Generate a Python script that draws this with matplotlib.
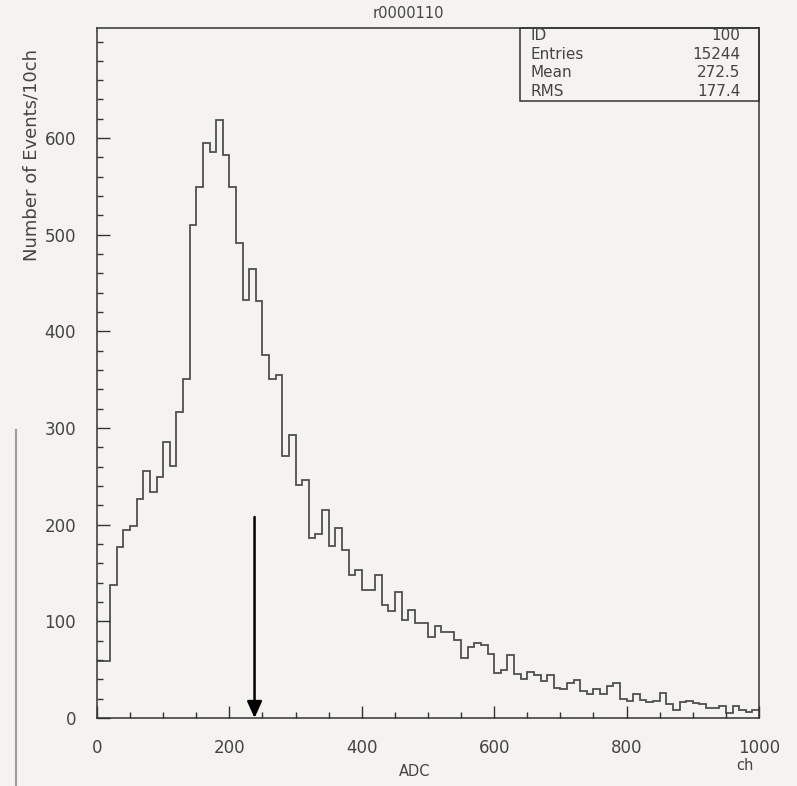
import numpy as np
import matplotlib
matplotlib.use("Agg")
import matplotlib.pyplot as plt
from matplotlib.patches import Rectangle
from matplotlib.lines import Line2D

# ADC spectrum, number of events per 10 channels (bins 0-10, 10-20, ... 990-1000)
counts = [59, 59, 138, 177, 195, 199, 227, 256, 234, 249,
          286, 261, 317, 351, 510, 549, 595, 586, 619, 583,
          549, 491, 433, 465, 431, 376, 351, 355, 271, 293,
          241, 246, 186, 190, 215, 178, 197, 174, 148, 153,
          132, 132, 148, 117, 111, 130, 101, 112, 98, 98,
          84, 95, 89, 89, 81, 62, 73, 78, 76, 66,
          47, 50, 65, 46, 40, 48, 44, 38, 45, 31,
          30, 36, 39, 28, 25, 30, 25, 33, 36, 20,
          18, 25, 19, 17, 18, 26, 15, 8, 17, 18,
          16, 15, 10, 10, 12, 5, 12, 8, 6, 8]
bin_width = 10

stat_names = ["ID", "Entries", "Mean", "RMS"]
stat_values = ["100", "15244", "272.5", "177.4"]

# threshold marker
arrow_x = 238
arrow_top = 208

paper = "#f5f3f0"
ink = "#444444"

fig = plt.figure(figsize=(7.97, 7.86), dpi=100, facecolor=paper)
ax = fig.add_axes([0.1217, 0.0865, 0.8306, 0.8779], facecolor=paper)

edges = np.arange(len(counts) + 1) * bin_width
ax.stairs(counts, edges, color="#505050", linewidth=1.3, baseline=None)

ax.set_xlim(0, 1000)
ax.set_ylim(0, 714)

for s in ax.spines.values():
    s.set_color("#333333")
    s.set_linewidth(1.1)

ax.set_xticks(np.arange(0, 1001, 200))
ax.set_xticks(np.arange(0, 1001, 50), minor=True)
ax.set_yticks(np.arange(0, 601, 100))
ax.set_yticks(np.arange(0, 714, 20), minor=True)
ax.tick_params(which="both", direction="in", color="#333333", width=1.0,
               labelcolor=ink, labelsize=12)
ax.tick_params(axis="y", which="major", length=9, pad=15)
ax.tick_params(axis="y", which="minor", length=4.5)
ax.tick_params(axis="x", which="major", length=9, pad=15)
ax.tick_params(axis="x", which="minor", length=4)

# stats box
ax.add_patch(Rectangle((0.639, 0.894), 0.361, 0.106, transform=ax.transAxes,
                       fill=False, edgecolor="#333333", linewidth=1.1, clip_on=False))
for i, (n, v) in enumerate(zip(stat_names, stat_values)):
    y = 0.9885 - i * 0.0268
    ax.text(0.655, y, n, transform=ax.transAxes, ha="left", va="center",
            fontsize=11, color=ink)
    ax.text(0.972, y, v, transform=ax.transAxes, ha="right", va="center",
            fontsize=11, color=ink)

# arrow
ax.annotate("", xy=(arrow_x, 0), xytext=(arrow_x, arrow_top),
            arrowprops=dict(arrowstyle="-|>,head_length=1.0,head_width=0.45",
                            color="black", lw=1.8, shrinkA=0, shrinkB=0))

fig.text(408 / 797, 1 - 13 / 786, "r0000110", ha="center", va="center",
         fontsize=10.5, color=ink)
fig.text(32 / 797, 1 - 155 / 786, "Number of Events/10ch", rotation=90,
         ha="center", va="center", fontsize=13, color=ink)
fig.text(415 / 797, 1 - 772 / 786, "ADC", ha="center", va="center",
         fontsize=10.5, color=ink)
fig.text(745 / 797, 1 - 766 / 786, "ch", ha="center", va="center",
         fontsize=10.5, color=ink)

# edge of the scanned page
fig.add_artist(Line2D([16 / 797, 16 / 797], [0, 1 - 430 / 786],
                      color="#9a9a9a", linewidth=1.5))

fig.savefig("out.png", dpi=100, facecolor=paper)
